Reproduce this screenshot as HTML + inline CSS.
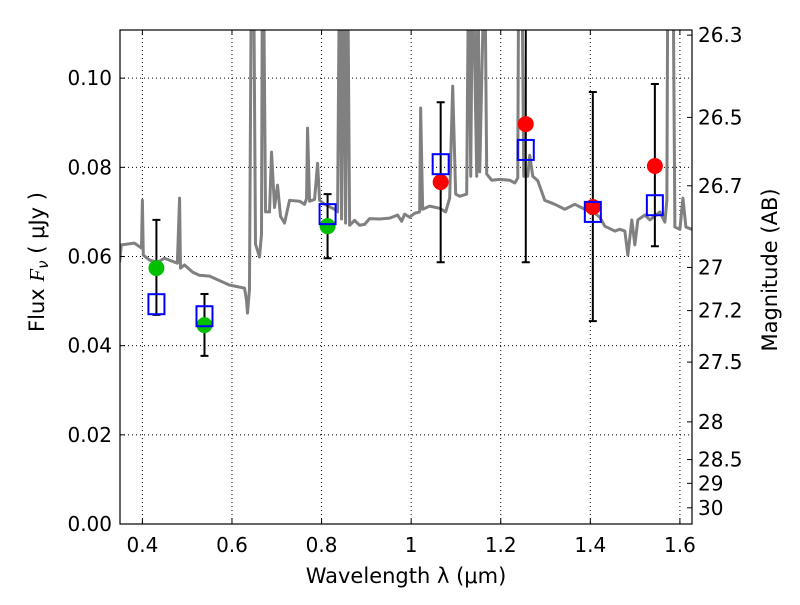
<!DOCTYPE html>
<html><head><meta charset="utf-8"><style>
body{margin:0;background:#fff;}
svg text{font-family:"DejaVu Sans","Liberation Sans",sans-serif;fill:#000;}
</style></head><body>
<svg id="chart" width="800" height="600" xmlns="http://www.w3.org/2000/svg">
<defs><clipPath id="clip"><rect x="120" y="30" width="572" height="494"/></clipPath></defs>
<rect width="800" height="600" fill="#fff"/>
<g id="grid"></g>
<g id="plot" clip-path="url(#clip)"></g>
<g id="axes"></g>
</svg>
<script>
const specWave=[0.349,0.353,0.382,0.398,0.400,0.402,0.416,0.434,0.449,0.478,0.483,0.485,0.494,0.512,0.527,0.550,0.594,0.628,0.6324,0.6346,0.639,0.6436,0.648,0.6525,0.6615,0.6659,0.668,0.670,0.6749,0.6838,0.6883,0.695,0.7017,0.7084,0.7173,0.7285,0.7508,0.762,0.7665,0.7687,0.7732,0.7844,0.7911,0.7955,0.8067,0.8291,0.8358,0.8402,0.8447,0.8492,0.8536,0.8581,0.8626,0.8737,0.8849,0.8961,0.9073,0.9296,0.952,0.9698,0.9788,0.9855,0.9966,1.0078,1.019,1.0212,1.0257,1.0413,1.0637,1.0771,1.086,1.0927,1.0994,1.1084,1.124,1.1285,1.133,1.1374,1.1464,1.1486,1.1531,1.1642,1.1687,1.1799,1.1978,1.2201,1.2313,1.238,1.2402,1.2469,1.2514,1.2603,1.2648,1.2715,1.2827,1.2983,1.3207,1.343,1.3654,1.3877,1.3989,1.4212,1.4324,1.4547,1.4659,1.4771,1.4838,1.4927,1.4994,1.5061,1.5218,1.533,1.5553,1.5665,1.5709,1.5732,1.5844,1.5888,1.6,1.6067,1.6134,1.6268];
const specFlux=[0.0587,0.0626,0.063,0.0619,0.0726,0.0603,0.0592,0.0587,0.0596,0.0585,0.0731,0.0574,0.0581,0.0565,0.0558,0.0556,0.0536,0.0529,0.0502,0.0473,0.0525,0.13,0.13,0.0628,0.0599,0.065,0.13,0.13,0.07,0.07,0.0834,0.071,0.076,0.069,0.0675,0.0726,0.0724,0.0717,0.073,0.0888,0.0724,0.0728,0.0809,0.0726,0.0717,0.0706,0.07,0.13,0.0684,0.13,0.0675,0.13,0.067,0.0681,0.067,0.0672,0.0685,0.0684,0.0686,0.0693,0.0679,0.0695,0.0688,0.0697,0.07,0.0933,0.0706,0.0713,0.0708,0.07,0.0731,0.0982,0.074,0.0735,0.074,0.13,0.078,0.13,0.078,0.13,0.079,0.13,0.0785,0.0771,0.0773,0.0771,0.0765,0.0776,0.13,0.13,0.078,0.078,0.0827,0.078,0.077,0.0726,0.0717,0.0706,0.0717,0.0706,0.0706,0.0688,0.0668,0.0657,0.0661,0.0657,0.0603,0.0682,0.0626,0.0682,0.0693,0.0682,0.07,0.0677,0.0726,0.13,0.13,0.0666,0.0661,0.0731,0.0666,0.0661];
const greenWave=[0.4313,0.5386,0.8134];
const greenFlux=[0.0574,0.0446,0.0668];
const redWave=[1.0659,1.2559,1.4056,1.5441];
const redFlux=[0.0767,0.0897,0.0711,0.0803];
const boxWave=[0.4313,0.5386,0.8134,1.0659,1.2559,1.4056,1.5441];
const boxFlux=[0.0493,0.0466,0.0695,0.0807,0.0839,0.0700,0.0715];
const errLow=[0.0469,0.0377,0.0596,0.0587,0.0587,0.0455,0.0623];
const errHigh=[0.0682,0.0516,0.0740,0.0946,0.125,0.0969,0.0987];
const xTicks=[0.4,0.6,0.8,1.0,1.2,1.4,1.6];
const xTickLabels=["0.4","0.6","0.8","1","1.2","1.4","1.6"];
const yTicks=[0,0.02,0.04,0.06,0.08,0.10];
const yTickLabels=["0.00","0.02","0.04","0.06","0.08","0.10"];
const magTicks=[26.3,26.5,26.7,27,27.2,27.5,28,28.5,29,30];
const magTickLabels=["26.3","26.5","26.7","27","27.2","27.5","28","28.5","29","30"];

const L=120,R=692,T=30,B=524,X0=0.35,X1=1.627,Y0=0,Y1=0.1108;
const xs=v=>L+(v-X0)/(X1-X0)*(R-L);
const ys=v=>B-(v-Y0)/(Y1-Y0)*(B-T);
const NS="http://www.w3.org/2000/svg";
function mk(tag,attrs,parent,text){const e=document.createElementNS(NS,tag);for(const k in attrs)e.setAttribute(k,attrs[k]);if(text!==undefined)e.textContent=text;parent.appendChild(e);return e;}
const grid=document.getElementById('grid'),plot=document.getElementById('plot'),axes=document.getElementById('axes');

xTicks.forEach((t,i)=>{
  const g=mk('line',{x1:xs(t),x2:xs(t),y1:T,y2:B,stroke:'#000','stroke-width':1,'stroke-dasharray':'1,3'},grid);
  
  
  const tk=mk('path',{d:`M${xs(t)},${B}v-5M${xs(t)},${T}v5`,stroke:'#000','stroke-width':1},axes);
  
  
  const lb=mk('text',{x:xs(t),y:B+28,'text-anchor':'middle','font-size':20},axes,xTickLabels[i]);
  
  
});
yTicks.forEach((t,i)=>{
  const g=mk('line',{x1:L,x2:R,y1:ys(t),y2:ys(t),stroke:'#000','stroke-width':1,'stroke-dasharray':'1,3'},grid);
  
  
  const tk=mk('path',{d:`M${L},${ys(t)}h5`,stroke:'#000','stroke-width':1},axes);
  
  
  const lb=mk('text',{x:L-8,y:ys(t)+7,'text-anchor':'end','font-size':20},axes,yTickLabels[i]);
  
  
});
magTicks.forEach((m,i)=>{
  const f=Math.pow(10,(23.9-m)/2.5);const y=ys(f);
  const tk=mk('path',{d:`M${R},${y}h-5`,stroke:'#000','stroke-width':1},axes);
  
  
  const lb=mk('text',{x:R+6,y:y+7,'font-size':20},axes,magTickLabels[i]);
  
  
});

const sp=mk('polyline',{points:specWave.map((w,i)=>xs(w)+','+ys(specFlux[i])).join(' '),fill:'none',stroke:'#808080','stroke-width':3,'stroke-linejoin':'round'},plot);



boxWave.forEach((w,i)=>{
  const eb=mk('path',{d:`M${xs(w)},${ys(errLow[i])}V${ys(errHigh[i])}M${xs(w)-4},${ys(errLow[i])}h8M${xs(w)-4},${ys(errHigh[i])}h8`,stroke:'#000','stroke-width':2,fill:'none'},plot);
  
  
});
greenWave.forEach((w,i)=>{
  const c=mk('circle',{cx:xs(w),cy:ys(greenFlux[i]),r:8,fill:'#00c000'},plot);
  
  
});
redWave.forEach((w,i)=>{
  const c=mk('circle',{cx:xs(w),cy:ys(redFlux[i]),r:8,fill:'#ff0000'},plot);
  
  
});
boxWave.forEach((w,i)=>{
  const r=mk('rect',{x:xs(w)-8,y:ys(boxFlux[i])-10,width:16,height:20,fill:'none',stroke:'#0000ff','stroke-width':2},plot);
  
  
});

const fr=mk('rect',{x:L,y:T,width:R-L,height:B-T,fill:'none',stroke:'#000','stroke-width':1.2},axes);


const xl=mk('text',{x:406,y:583,'text-anchor':'middle','font-size':21},axes,'Wavelength  λ (μm)');


const yl=mk('text',{x:0,y:0,'text-anchor':'middle','font-size':21,transform:'translate(44,262) rotate(-90)'},axes);


yl.innerHTML='Flux  <tspan font-style="italic" font-family="Liberation Serif, serif">F</tspan><tspan font-style="italic" font-size="15" dy="4">ν</tspan><tspan dy="-4">  ( μJy )</tspan>';
const ml=mk('text',{x:0,y:0,'text-anchor':'middle','font-size':21,transform:'translate(777,270) rotate(-90)'},axes,'Magnitude (AB)');


</script>
</body></html>
